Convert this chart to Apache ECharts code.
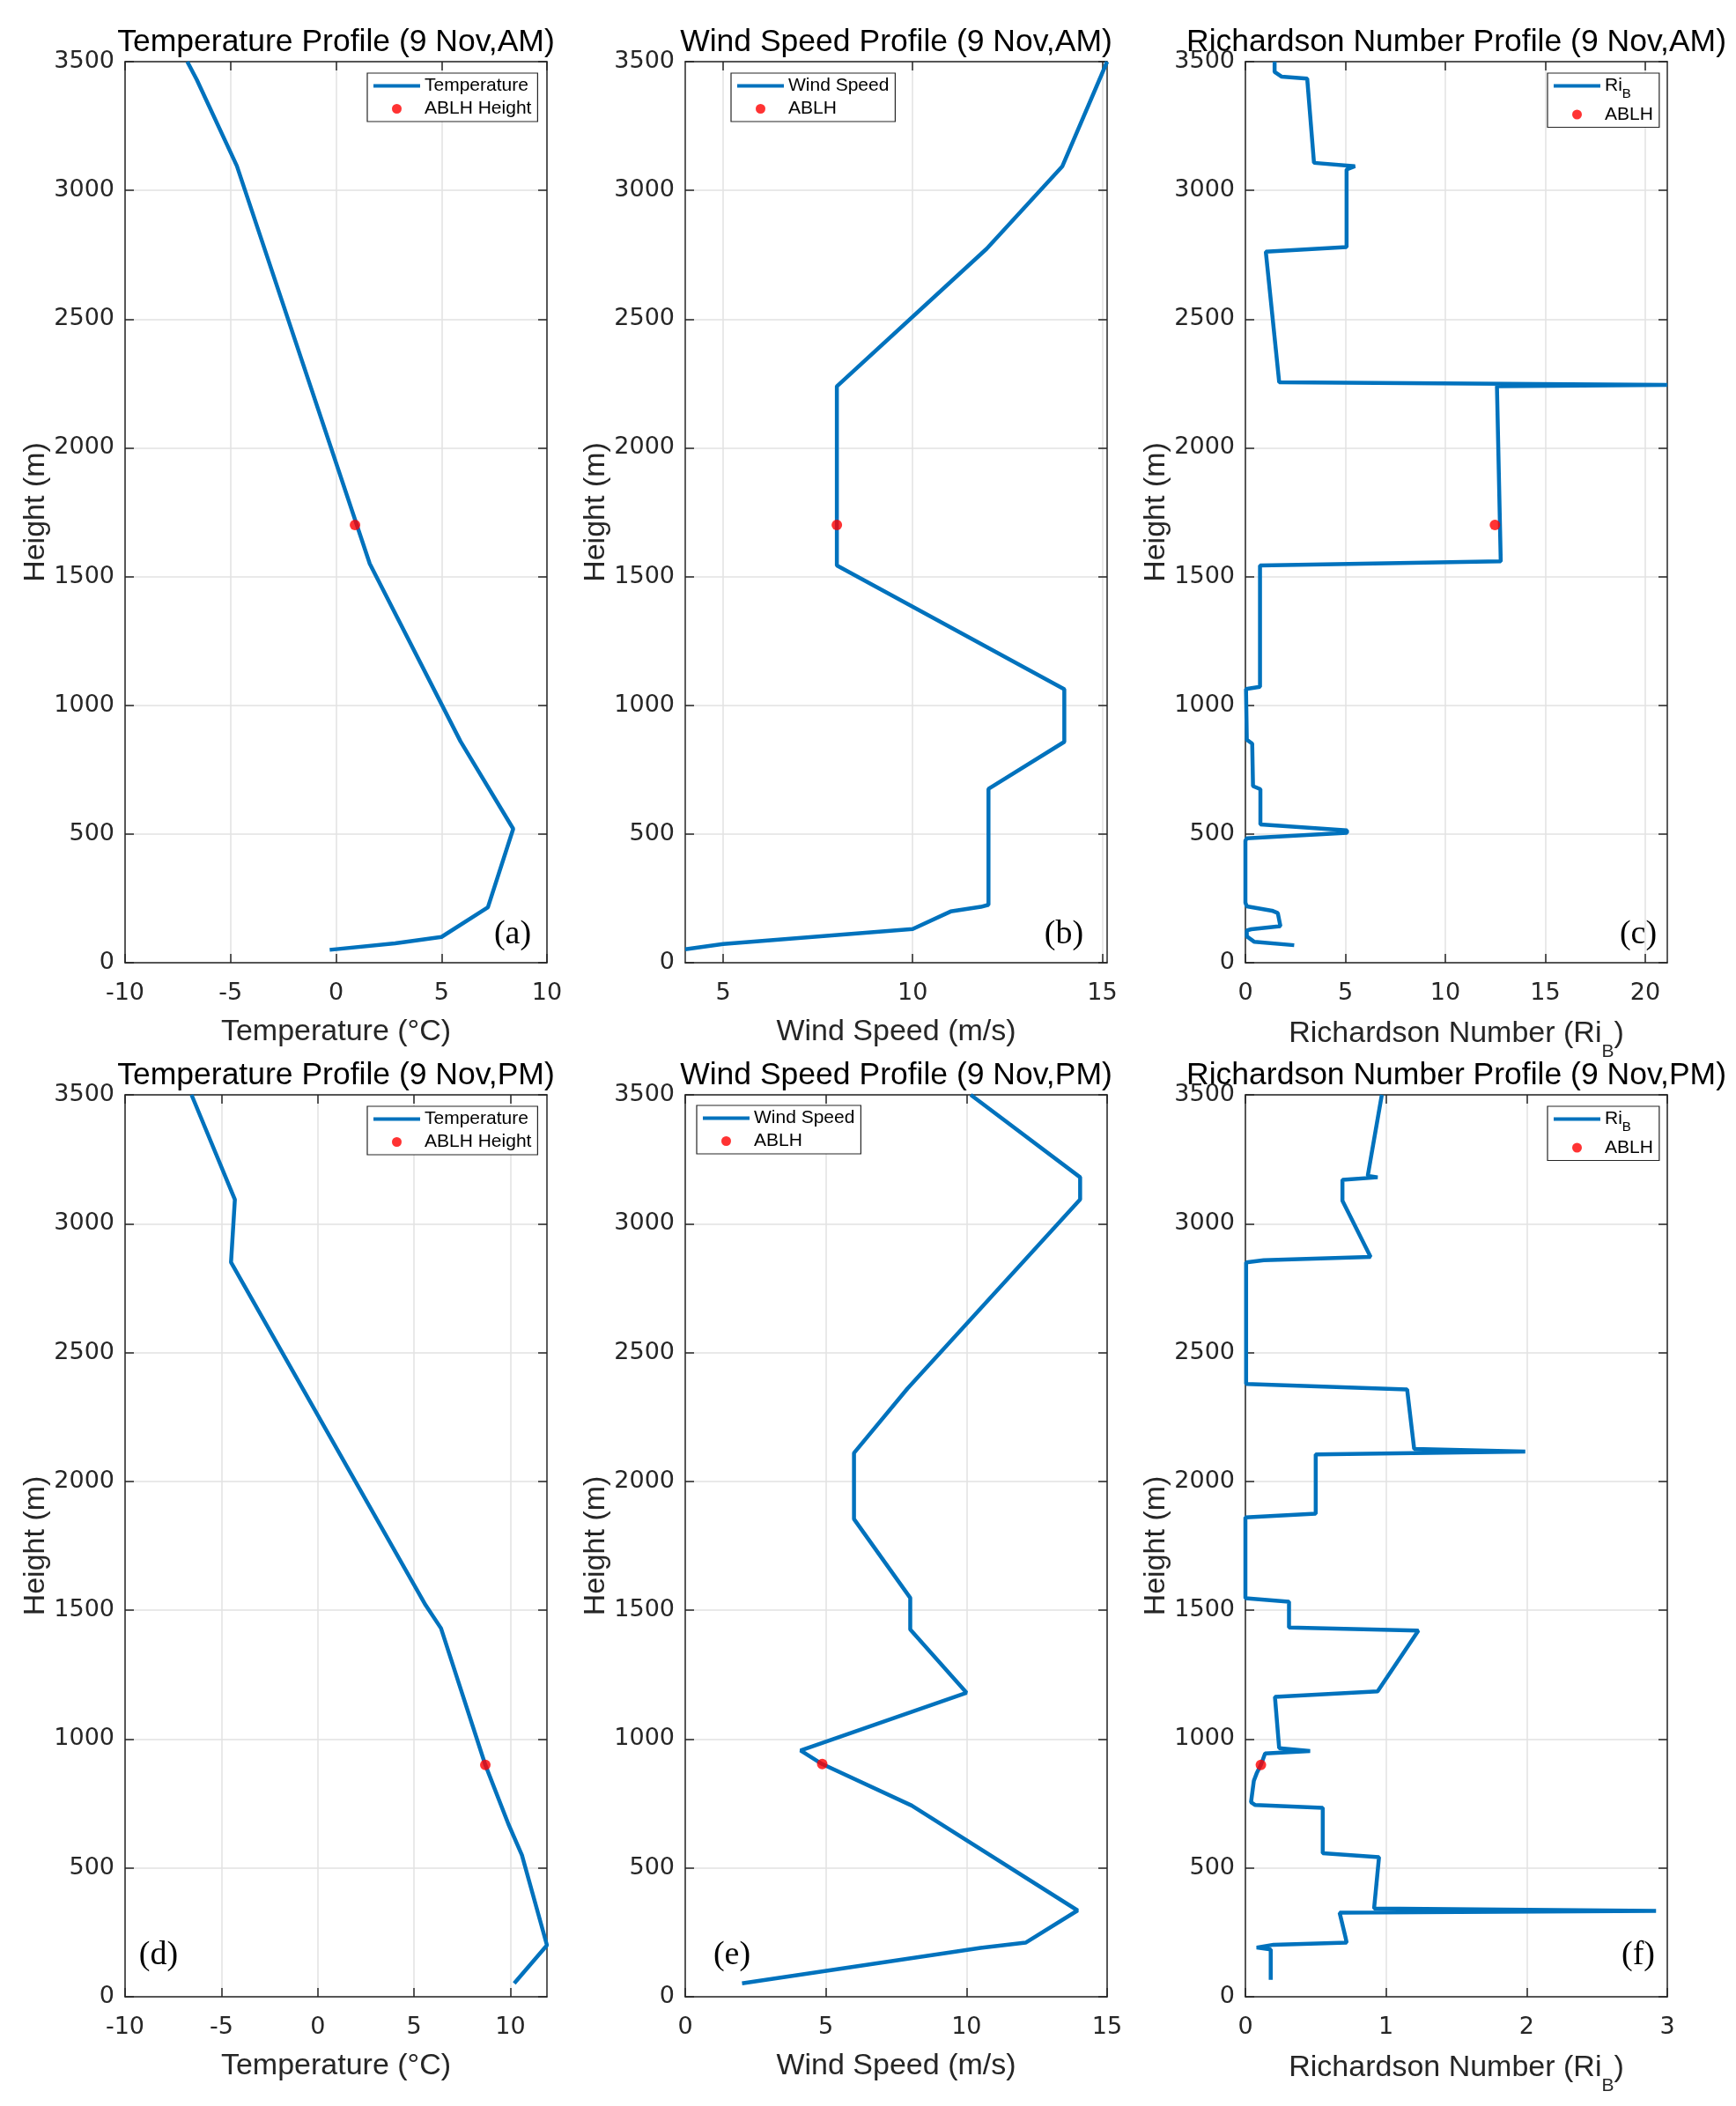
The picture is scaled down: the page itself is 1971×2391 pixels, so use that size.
<!DOCTYPE html>
<html>
<head>
<meta charset="utf-8">
<script src="https://cdn.jsdelivr.net/npm/echarts@6/dist/echarts.min.js"></script>
<style>
  html, body { margin: 0; padding: 0; background: #fff; }
  #chart { width: 1971px; height: 2391px; }
</style>
</head>
<body>
<div id="chart"></div>
<script>
// tick values
var heightTicks = [0, 500, 1000, 1500, 2000, 2500, 3000, 3500];
var tempTicks = [-10, -5, 0, 5, 10];
var windTicksAM = [5, 10, 15];
var windTicksPM = [0, 5, 10, 15];
var riTicksAM = [0, 5, 10, 15, 20];
var riTicksPM = [0, 1, 2, 3];

// profiles, [value, height m]
var tempAM = [[-0.3, 50], [2.8, 75], [5.0, 100], [7.2, 215], [8.4, 520], [5.9, 860],
  [1.6, 1550], [-4.7, 3095], [-6.6, 3430], [-7.05, 3500]];
var ablhTempAM = [[0.9, 1700]];

var windAM = [[4.0, 52], [5.0, 73], [10.0, 131], [11.0, 199], [11.8, 217], [12.0, 225],
  [12.0, 675], [14.0, 858], [14.0, 1062], [8.0, 1543], [8.0, 2239], [11.95, 2773],
  [13.95, 3094], [15.13, 3500]];
var ablhWindAM = [[8.0, 1700]];

var riAM = [[2.44, 68], [0.45, 81], [0.07, 102], [0.07, 125], [0.29, 130], [1.75, 142],
  [1.62, 193], [1.33, 202], [0.07, 219], [0, 233], [0, 474], [0.07, 483], [5.08, 505],
  [5.08, 514], [0.75, 537], [0.75, 674], [0.38, 686], [0.34, 851], [0.07, 866],
  [0.03, 1063], [0.73, 1072], [0.73, 1543], [12.77, 1559], [12.58, 2239], [21.1, 2244],
  [1.69, 2255], [1.02, 2762], [5.06, 2780], [5.06, 3081], [5.48, 3094], [3.43, 3107],
  [3.09, 3434], [1.80, 3442], [1.46, 3460], [1.46, 3500]];
var ablhRiAM = [[12.48, 1700]];

var tempPM = [[10.2, 52], [11.9, 200], [10.6, 550], [9.9, 670], [8.7, 900], [6.4, 1430],
  [5.6, 1520], [-4.5, 2850], [-4.3, 3094], [-6.55, 3500]];
var ablhTempPM = [[8.7, 900]];

var windPM = [[2.02, 52], [10.5, 190], [12.1, 210], [13.95, 335], [8.05, 742], [4.87, 903],
  [4.1, 956], [10.0, 1180], [8.0, 1425], [8.0, 1548], [6.0, 1854], [6.0, 2110],
  [7.9, 2360], [14.04, 3094], [14.04, 3180], [10.15, 3500]];
var ablhWindPM = [[4.87, 903]];

var riPM = [[0.18, 66], [0.18, 184], [0.08, 191], [0.2, 202], [0.72, 210], [0.71, 235],
  [0.67, 326], [2.92, 333], [0.915, 343], [0.95, 542], [0.55, 557], [0.55, 733],
  [0.07, 744], [0.04, 755], [0.06, 838], [0.08, 867], [0.11, 900], [0.14, 944],
  [0.46, 954], [0.24, 965], [0.21, 1164], [0.94, 1185], [1.23, 1421], [0.31, 1433],
  [0.31, 1533], [0.0, 1547], [0.0, 1860], [0.5, 1875], [0.5, 2105], [1.99, 2116],
  [1.2, 2126], [1.15, 2357], [0.005, 2378], [0.005, 2850], [0.13, 2858], [0.89, 2871],
  [0.69, 3089], [0.69, 3170], [0.94, 3180], [0.87, 3186], [0.97, 3500]];
var ablhRiPM = [[0.11, 900]];

var LINE = '#0072BD', DOT = '#FF0000', INK = '#262626';
var SANS = '"Liberation Sans", Arial, sans-serif';
var TICK_FONT = '"DejaVu Sans", sans-serif';
var PLOT_W = 479;
var colLeft = [142, 778, 1414];
var rowTop = [70, 1243];
var rowH = [1023, 1024];

var riName = '{m|Richardson Number (Ri}{s|B}{m|)}';

var panels = [
  { col: 0, row: 0, line: tempAM, dot: ablhTempAM, xMin: -10, xMax: 10, xTicks: tempTicks,
    lineName: 'Temperature', dotName: 'ABLH Height', title: 'Temperature Profile (9 Nov,AM)',
    xName: 'Temperature (°C)', tag: '(a)', legend: [417, 83], tagPos: [582, 1061] },
  { col: 1, row: 0, line: windAM, dot: ablhWindAM, xMin: 4, xMax: 15.13, xTicks: windTicksAM,
    lineName: 'Wind Speed', dotName: 'ABLH', title: 'Wind Speed Profile (9 Nov,AM)',
    xName: 'Wind Speed (m/s)', tag: '(b)', legend: [830, 83], tagPos: [1208, 1061] },
  { col: 2, row: 0, line: riAM, dot: ablhRiAM, xMin: 0, xMax: 21.1, xTicks: riTicksAM,
    lineName: 'RiB', dotName: 'ABLH', title: 'Richardson Number Profile (9 Nov,AM)',
    xName: riName, tag: '(c)', legend: [1757, 83], tagPos: [1860, 1061] },
  { col: 0, row: 1, line: tempPM, dot: ablhTempPM, xMin: -10, xMax: 11.9, xTicks: tempTicks,
    lineName: 'Temperature', dotName: 'ABLH Height', title: 'Temperature Profile (9 Nov,PM)',
    xName: 'Temperature (°C)', tag: '(d)', legend: [417, 1256], tagPos: [180, 2220] },
  { col: 1, row: 1, line: windPM, dot: ablhWindPM, xMin: 0, xMax: 15, xTicks: windTicksPM,
    lineName: 'Wind Speed', dotName: 'ABLH', title: 'Wind Speed Profile (9 Nov,PM)',
    xName: 'Wind Speed (m/s)', tag: '(e)', legend: [791, 1255], tagPos: [831, 2220] },
  { col: 2, row: 1, line: riPM, dot: ablhRiPM, xMin: 0, xMax: 3, xTicks: riTicksPM,
    lineName: 'RiB', dotName: 'ABLH', title: 'Richardson Number Profile (9 Nov,PM)',
    xName: riName, tag: '(f)', legend: [1757, 1256], tagPos: [1860, 2220] }
];

function axisLineStyle() { return { color: INK, width: 1.5 }; }
function plainNumber(v) { return String(v); }

var option = {
  backgroundColor: '#fff',
  animation: false,
  grid: [], xAxis: [], yAxis: [], series: [], legend: [], graphic: []
};

panels.forEach(function (p, i) {
  var left = colLeft[p.col], top = rowTop[p.row], h = rowH[p.row];
  var isRi = p.lineName === 'RiB';
  option.grid.push({ left: left, top: top, width: PLOT_W, height: h, outerBoundsMode: 'none' });

  var xBase = {
    type: 'value', gridIndex: i, min: p.xMin, max: p.xMax,
    axisLine: { show: true, onZero: false, lineStyle: axisLineStyle() },
    axisTick: { show: true, inside: true, length: 10, customValues: p.xTicks, lineStyle: axisLineStyle() }
  };
  option.xAxis.push(Object.assign({}, xBase, {
    position: 'bottom',
    axisLabel: { customValues: p.xTicks, formatter: plainNumber, margin: 21, fontSize: 27, fontFamily: TICK_FONT, color: INK },
    splitLine: { show: true, lineStyle: { color: '#e2e2e2', width: 1.5 } },
    name: p.xName, nameLocation: 'middle', nameGap: isRi ? 50 : 62,
    nameTextStyle: {
      fontSize: 34, fontFamily: SANS, color: INK,
      rich: {
        m: { fontSize: 34, lineHeight: 62, fontFamily: SANS, color: INK },
        s: { fontSize: 21, lineHeight: 21, verticalAlign: 'bottom', fontFamily: SANS, color: INK }
      }
    }
  }));
  option.xAxis.push(Object.assign({}, xBase, {
    position: 'top', axisLabel: { show: false }, splitLine: { show: false }
  }));

  var yBase = {
    type: 'value', gridIndex: i, min: 0, max: 3500,
    axisLine: { show: true, onZero: false, lineStyle: axisLineStyle() },
    axisTick: { show: true, inside: true, length: 10, customValues: heightTicks, lineStyle: axisLineStyle() }
  };
  option.yAxis.push(Object.assign({}, yBase, {
    position: 'left',
    axisLabel: { customValues: heightTicks, formatter: plainNumber, margin: 12, fontSize: 27, fontFamily: TICK_FONT, color: INK },
    splitLine: { show: true, lineStyle: { color: '#e2e2e2', width: 1.5 } },
    name: 'Height (m)', nameLocation: 'middle', nameGap: 84,
    nameTextStyle: { fontSize: 34, fontFamily: SANS, color: INK }
  }));
  option.yAxis.push(Object.assign({}, yBase, {
    position: 'right', axisLabel: { show: false }, splitLine: { show: false }
  }));

  option.series.push({
    type: 'line', name: p.lineName, xAxisIndex: 2 * i, yAxisIndex: 2 * i,
    data: p.line, symbol: 'none', showSymbol: false, clip: true,
    lineStyle: { color: LINE, width: 4.5 }, itemStyle: { color: LINE }
  });
  option.series.push({
    type: 'scatter', name: p.dotName, xAxisIndex: 2 * i, yAxisIndex: 2 * i,
    data: p.dot, symbol: 'circle', symbolSize: 12, z: 5,
    itemStyle: { color: DOT }
  });

  option.legend.push({
    data: [
      { name: p.lineName, itemStyle: { opacity: 0 }, lineStyle: { width: 4, color: LINE } },
      { name: p.dotName }
    ],
    left: p.legend[0], top: p.legend[1],
    orient: 'vertical', padding: [4, 7, 4, 5], itemWidth: 53, itemHeight: 11, itemGap: 5,
    lineStyle: { width: 4 },
    borderColor: INK, borderWidth: 1.2, backgroundColor: '#fff', selectedMode: false,
    formatter: function (name) {
      return name === 'RiB' ? '{m|Ri}{s|B}' : '{n|' + name + '}';
    },
    textStyle: {
      fontSize: 21, fontFamily: SANS, color: '#000',
      rich: {
        n: { fontSize: 21, lineHeight: 24, fontFamily: SANS, color: '#000' },
        m: { fontSize: 21, lineHeight: 34, fontFamily: SANS, color: '#000' },
        s: { fontSize: 15, lineHeight: 15, verticalAlign: 'bottom', fontFamily: SANS, color: '#000' }
      }
    }
  });

  option.graphic.push({
    type: 'text', x: left + PLOT_W / 2, y: top - 22,
    style: { text: p.title, fontSize: 35.5, fontFamily: SANS, fill: '#000', align: 'center', verticalAlign: 'middle' }
  });
  option.graphic.push({
    type: 'text', x: p.tagPos[0], y: p.tagPos[1],
    style: { text: p.tag, fontSize: 38, fontFamily: '"Liberation Serif", "Times New Roman", serif', fill: '#000', align: 'center', verticalAlign: 'middle' }
  });
});

var chart = echarts.init(document.getElementById('chart'));
chart.setOption(option);
</script>
</body>
</html>
